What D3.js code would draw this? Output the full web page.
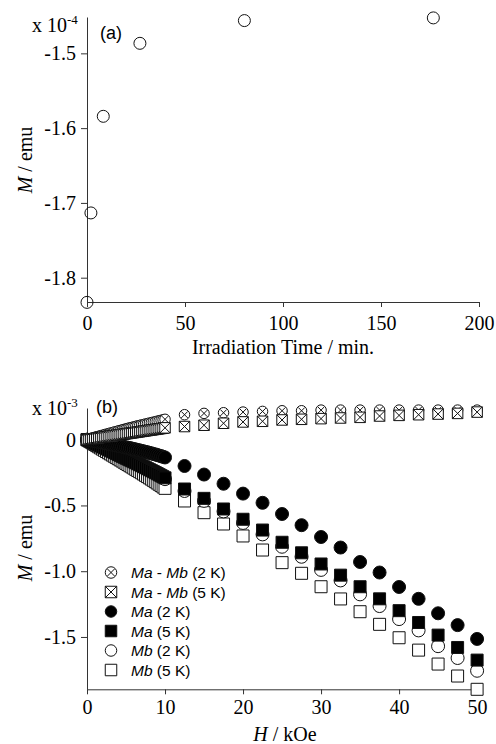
<!DOCTYPE html>
<html><head><meta charset="utf-8">
<script src="https://cdn.jsdelivr.net/npm/d3@7"></script>
<style>
html,body{margin:0;padding:0;background:#fff;}
svg{display:block;}
</style></head>
<body>
<svg id="chart" width="496" height="744"></svg>
<script>
// ---------- Panel (a) data ----------
const timeMin = [0, 2, 8.3, 27, 80.3, 176.7];
const magA = [-1.833, -1.7134, -1.5842, -1.4866, -1.4562, -1.4526];
const aXTicks = [0, 50, 100, 150, 200];
const aXLabels = ["0", "50", "100", "150", "200"];
const aYTicks = [-1.5, -1.6, -1.7, -1.8];
const aYLabels = ["-1.5", "-1.6", "-1.7", "-1.8"];

// ---------- Panel (b) data ----------
const hField = [
  0, 0.25, 0.5, 0.75, 1, 1.25, 1.5, 1.75, 2, 2.25, 2.5, 2.75, 3, 3.25, 3.5, 3.75, 4, 4.25, 4.5, 4.75,
  5, 5.25, 5.5, 5.75, 6, 6.25, 6.5, 6.75, 7, 7.25, 7.5, 7.75, 8, 8.25, 8.5, 8.75, 9, 9.25, 9.5, 9.75, 10,
  12.5, 15, 17.5, 20, 22.5, 25, 27.5, 30, 32.5, 35, 37.5, 40, 42.5, 45, 47.5, 50];
const diff2K = [
  0, 0.0045, 0.009, 0.0135, 0.018, 0.022, 0.026, 0.030, 0.034, 0.038, 0.042, 0.046, 0.050, 0.054, 0.058, 0.062, 0.066, 0.070, 0.074, 0.078,
  0.082, 0.086, 0.090, 0.093, 0.097, 0.101, 0.105, 0.108, 0.112, 0.115, 0.119, 0.122, 0.126, 0.129, 0.133, 0.136, 0.140, 0.144, 0.147, 0.151, 0.155,
  0.19, 0.20, 0.205, 0.21, 0.215, 0.22, 0.22, 0.225, 0.225, 0.225, 0.225, 0.225, 0.225, 0.225, 0.225, 0.225];
const diff5K = [
  0, 0.002, 0.0045, 0.0067, 0.009, 0.011, 0.0135, 0.0157, 0.018, 0.020, 0.0225, 0.0247, 0.027, 0.029, 0.0315, 0.0337, 0.036, 0.038, 0.0405, 0.0427,
  0.045, 0.047, 0.0495, 0.0517, 0.054, 0.056, 0.0585, 0.0607, 0.063, 0.065, 0.0675, 0.0697, 0.072, 0.074, 0.0765, 0.0787, 0.081, 0.083, 0.0855, 0.0877, 0.090,
  0.10, 0.11, 0.125, 0.135, 0.14, 0.15, 0.155, 0.16, 0.165, 0.17, 0.18, 0.185, 0.19, 0.195, 0.20, 0.21];
const ma2K = [
  0, -0.0027, -0.0055, -0.008, -0.011, -0.0137, -0.0165, -0.019, -0.022, -0.025, -0.028, -0.031, -0.034, -0.037, -0.040, -0.043, -0.046, -0.049, -0.052, -0.055,
  -0.058, -0.061, -0.064, -0.0675, -0.071, -0.0745, -0.078, -0.0815, -0.085, -0.089, -0.0925, -0.096, -0.100, -0.104, -0.108, -0.112, -0.116, -0.121, -0.125, -0.130, -0.135,
  -0.20, -0.265, -0.335, -0.41, -0.48, -0.565, -0.65, -0.74, -0.82, -0.93, -1.01, -1.12, -1.21, -1.32, -1.41, -1.515];
const ma5K = [
  0, -0.007, -0.014, -0.021, -0.028, -0.035, -0.042, -0.049, -0.056, -0.063, -0.070, -0.077, -0.084, -0.091, -0.098, -0.105, -0.112, -0.119, -0.126, -0.133,
  -0.140, -0.147, -0.154, -0.161, -0.168, -0.1755, -0.183, -0.1905, -0.198, -0.2055, -0.213, -0.2205, -0.228, -0.2355, -0.243, -0.2505, -0.258, -0.266, -0.274, -0.282, -0.290,
  -0.375, -0.446, -0.527, -0.605, -0.687, -0.78, -0.86, -0.945, -1.03, -1.118, -1.21, -1.30, -1.39, -1.486, -1.58, -1.676];
const mb2K = [
  0, -0.0075, -0.015, -0.0225, -0.030, -0.037, -0.044, -0.051, -0.058, -0.065, -0.072, -0.0795, -0.087, -0.094, -0.101, -0.1085, -0.116, -0.123, -0.130, -0.1375,
  -0.145, -0.152, -0.159, -0.1665, -0.174, -0.1815, -0.189, -0.1965, -0.204, -0.212, -0.219, -0.227, -0.235, -0.243, -0.251, -0.259, -0.267, -0.275, -0.283, -0.2915, -0.300,
  -0.39, -0.465, -0.545, -0.633, -0.72, -0.814, -0.89, -0.99, -1.07, -1.176, -1.265, -1.364, -1.45, -1.57, -1.66, -1.757];
const mb5K = [
  0, -0.009, -0.018, -0.027, -0.036, -0.045, -0.054, -0.063, -0.072, -0.081, -0.090, -0.099, -0.108, -0.117, -0.126, -0.135, -0.144, -0.153, -0.162, -0.171,
  -0.180, -0.189, -0.198, -0.207, -0.216, -0.225, -0.234, -0.243, -0.252, -0.2615, -0.271, -0.2805, -0.290, -0.2995, -0.309, -0.319, -0.329, -0.339, -0.349, -0.3595, -0.370,
  -0.466, -0.555, -0.641, -0.732, -0.839, -0.935, -1.016, -1.118, -1.211, -1.308, -1.404, -1.506, -1.60, -1.706, -1.797, -1.898];
const bXTicks = [0, 10, 20, 30, 40, 50];
const bXLabels = ["0", "10", "20", "30", "40", "50"];
const bYTicks = [0, -0.5, -1.0, -1.5];
const bYLabels = ["0", "-0.5", "-1.0", "-1.5"];
const seriesNames = [["Ma", " - ", "Mb", " (2 K)"], ["Ma", " - ", "Mb", " (5 K)"], ["Ma", " (2 K)"], ["Ma", " (5 K)"], ["Mb", " (2 K)"], ["Mb", " (5 K)"]];
const seriesMarkers = ["ocross", "sqcross", "dot", "square", "circle", "openSquare"];

// ---------- drawing ----------
const svg = d3.select("#chart");
const SERIF = "'Liberation Serif','Times New Roman',serif";
const SANS = "'Liberation Sans',Arial,sans-serif";
const AX = "#333";

function styleAxis(g) {
  g.attr("font-family", SERIF).attr("font-size", 20);
  g.selectAll("path.domain").attr("stroke", AX).attr("stroke-width", 1);
  g.selectAll(".tick line").attr("stroke", AX).attr("stroke-width", 1);
  g.selectAll(".tick text").attr("font-family", SERIF).attr("font-size", 20).attr("fill", "#000");
}

function markerPath(type, s) {
  const h = s / 2;
  if (type === "square" || type === "openSquare") return `M${-h},${-h}H${h}V${h}H${-h}Z`;
  if (type === "sqcross") return `M${-h},${-h}H${h}V${h}H${-h}Z M${-h},${-h}L${h},${h} M${h},${-h}L${-h},${h}`;
  const r = h;
  const circ = `M${r},0A${r},${r} 0 1,1 ${-r},0A${r},${r} 0 1,1 ${r},0Z`;
  if (type === "ocross") { const d = r * 0.62; return circ + ` M${-d},${-d}L${d},${d} M${d},${-d}L${-d},${d}`; }
  return circ;
}
function markerStyle(sel, type) {
  const filled = (type === "dot" || type === "square");
  sel.attr("fill", filled ? "#000" : "#fff").attr("stroke", "#111").attr("stroke-width", 1);
}

// ===== Panel (a) =====
const xA = d3.scaleLinear().domain([0, 200]).range([87, 479]);
const yA = d3.scaleLinear().domain([-1.8325, -1.4514]).range([302, 17]);

const gAx = svg.append("g").attr("transform", "translate(0,302)")
  .call(d3.axisBottom(xA).tickValues(aXTicks).tickFormat((d, i) => aXLabels[i]).tickSizeInner(5).tickSizeOuter(0).tickPadding(9));
styleAxis(gAx);
const gAy = svg.append("g").attr("transform", "translate(87,0)")
  .call(d3.axisLeft(yA).tickValues(aYTicks).tickFormat((d, i) => aYLabels[i]).tickSizeInner(6).tickSizeOuter(0).tickPadding(5));
styleAxis(gAy);

svg.append("g").selectAll("circle").data(timeMin).join("circle")
  .attr("cx", d => xA(d)).attr("cy", (d, i) => yA(magA[i])).attr("r", 6)
  .attr("fill", "none").attr("stroke", "#111").attr("stroke-width", 1);

function multLabel(x, y, exp) {
  const t = svg.append("text").attr("x", x).attr("y", y).attr("font-family", SERIF).attr("font-size", 20).attr("fill", "#000");
  t.append("tspan").text("x 10");
  t.append("tspan").attr("font-size", 13).attr("dy", -8).text(exp);
}
multLabel(32, 32, "-4");
svg.append("text").attr("x", 100).attr("y", 39).attr("font-family", SANS).attr("font-size", 18).text("(a)");

function yTitle(cx, cy) {
  const t = svg.append("text").attr("transform", `translate(${cx},${cy}) rotate(-90)`).attr("text-anchor", "middle")
    .attr("font-family", SERIF).attr("font-size", 20).attr("fill", "#000");
  t.append("tspan").attr("font-style", "italic").text("M");
  t.append("tspan").text(" / emu");
}
yTitle(32, 160);
svg.append("text").attr("x", 283).attr("y", 354).attr("text-anchor", "middle").attr("font-family", SERIF).attr("font-size", 20).text("Irradiation Time / min.");

// ===== Panel (b) =====
const xB = d3.scaleLinear().domain([0, 50.5]).range([87, 481]);
const yB = d3.scaleLinear().domain([-1.898, 0.241]).range([689.3, 408]);

const gBx = svg.append("g").attr("transform", "translate(0,689.3)")
  .call(d3.axisBottom(xB).tickValues(bXTicks).tickFormat((d, i) => bXLabels[i]).tickSizeInner(5).tickSizeOuter(0).tickPadding(6));
styleAxis(gBx);
const gBy = svg.append("g").attr("transform", "translate(87,0)")
  .call(d3.axisLeft(yB).tickValues(bYTicks).tickFormat((d, i) => bYLabels[i]).tickSizeInner(6).tickSizeOuter(0).tickPadding(5));
styleAxis(gBy);

const seriesData = [diff2K, diff5K, ma2K, ma5K, mb2K, mb5K];
const sizes = {ocross: 10.5, sqcross: 10.5, dot: 13, square: 12, circle: 13, openSquare: 12};
const order = [5, 4, 3, 2, 0, 1];
order.forEach(si => {
  const type = seriesMarkers[si];
  const vals = seriesData[si];
  const g = svg.append("g");
  g.selectAll("path").data(hField).join("path")
    .attr("transform", (d, i) => `translate(${xB(d)},${yB(vals[i])})`)
    .attr("d", markerPath(type, sizes[type]))
    .call(markerStyle, type);
});

multLabel(32, 415, "-3");
svg.append("text").attr("x", 96).attr("y", 413).attr("font-family", SANS).attr("font-size", 18).text("(b)");
yTitle(32, 548);
const hT = svg.append("text").attr("x", 285).attr("y", 741).attr("text-anchor", "middle").attr("font-family", SERIF).attr("font-size", 20);
hT.append("tspan").attr("font-style", "italic").text("H");
hT.append("tspan").text(" / kOe");

const lg = svg.append("g");
seriesNames.forEach((parts, i) => {
  const y = 572.5 + i * 19.5;
  const type = seriesMarkers[i];
  lg.append("path").attr("transform", `translate(111,${y})`).attr("d", markerPath(type, 11.5)).call(markerStyle, type);
  const t = lg.append("text").attr("x", 131).attr("y", y + 5.5).attr("font-family", SANS).attr("font-size", 15.5);
  parts.forEach(p => {
    const sp = t.append("tspan").text(p);
    if (p === "Ma" || p === "Mb") sp.attr("font-style", "italic");
  });
});
</script>
</body></html>
